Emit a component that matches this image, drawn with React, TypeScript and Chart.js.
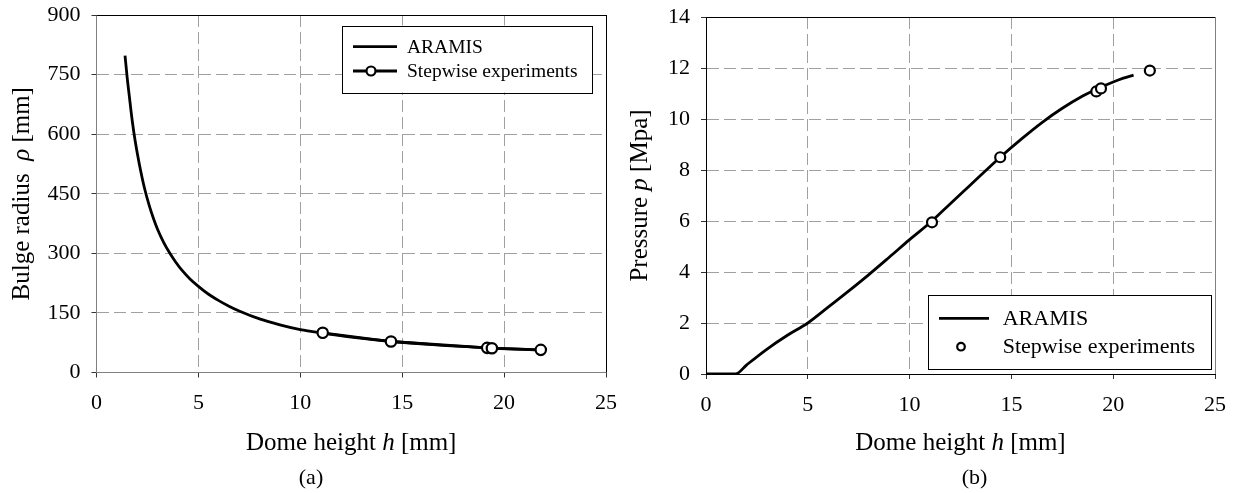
import React, { useEffect, useRef } from "react";
import { Chart, registerables } from "chart.js";

Chart.register(...registerables);

// ---------------- data ----------------
const xTickValues = [0, 5, 10, 15, 20, 25];
const radiusTickValues = [0, 150, 300, 450, 600, 750, 900];
const pressureTickValues = [0, 2, 4, 6, 8, 10, 12, 14];

// (a) ARAMIS: dome height h [mm] vs bulge radius rho [mm]
const aramisHeightA = [1.4, 1.5, 1.6, 1.75, 1.9, 2.1, 2.35, 2.6, 2.8, 3.0, 3.3, 3.6, 3.9, 4.2, 4.6, 5.0, 5.5, 6.0, 6.5, 7.0, 8.0, 9.0, 10.0, 11.1, 12.5, 14.5, 16.5, 18.5, 20.0, 21.5];
const aramisRadius = [798, 745, 700, 635, 582, 525, 465, 418, 387, 360, 327, 300, 277, 257, 235, 217, 197, 181, 167, 155, 135, 120, 108, 99, 89, 78, 70, 64, 60, 57];

// stepwise experiments
const stepHeight = [11.1, 14.45, 19.17, 19.4, 21.8];
const stepRadius = [100, 78, 62, 61, 57];
const stepPressure = [5.95, 8.5, 11.08, 11.2, 11.9];

// (b) ARAMIS: dome height h [mm] vs pressure p [MPa]
const aramisHeightB = [0, 0.5, 1.0, 1.45, 2.0, 3.0, 4.0, 5.0, 6.0, 7.0, 8.0, 9.0, 10.0, 11.1, 12.0, 13.0, 14.45, 15.5, 16.5, 17.5, 18.5, 19.2, 20.0, 20.5, 21.0];
const aramisPressure = [0, 0, 0, 0.0, 0.36, 0.98, 1.52, 2.0, 2.62, 3.25, 3.9, 4.58, 5.27, 6.0, 6.68, 7.42, 8.5, 9.22, 9.86, 10.42, 10.9, 11.18, 11.45, 11.6, 11.72];

const seriesLabels = ["ARAMIS", "Stepwise experiments"];

// ---------------- helpers ----------------
const FONT = "'Liberation Serif', 'Times New Roman', Times, serif";
const CANVAS_H = 493;
const X_AXIS_H = 80;

type Seg = { t: string; i?: boolean };

function drawSegs(ctx: CanvasRenderingContext2D, segs: Seg[], size: number, x: number, y: number, rotate: boolean) {
  ctx.save();
  ctx.translate(x, y);
  if (rotate) ctx.rotate(-Math.PI / 2);
  const fonts = segs.map((s) => `${s.i ? "italic " : ""}${size}px ${FONT}`);
  let total = 0;
  const widths = segs.map((s, k) => {
    ctx.font = fonts[k];
    const w = ctx.measureText(s.t).width;
    total += w;
    return w;
  });
  let cx = -total / 2;
  ctx.textBaseline = "alphabetic";
  ctx.textAlign = "left";
  ctx.fillStyle = "#000";
  segs.forEach((s, k) => {
    ctx.font = fonts[k];
    ctx.fillText(s.t, cx, 0);
    cx += widths[k];
  });
  ctx.restore();
}

function marker(ctx: CanvasRenderingContext2D, x: number, y: number, r: number, w: number) {
  ctx.save();
  ctx.beginPath();
  ctx.arc(x, y, r, 0, Math.PI * 2);
  ctx.fillStyle = "#fff";
  ctx.fill();
  ctx.lineWidth = w;
  ctx.strokeStyle = "#000";
  ctx.stroke();
  ctx.restore();
}

type LegendSpec = {
  box: { x: number; y: number; w: number; h: number };
  rows: { y: number; line: boolean; marker: boolean }[];
  lineX1: number;
  lineX2: number;
  markerX: number;
  markerR: number;
  textX: number;
  fontSize: number;
};

type Spec = {
  canvasW: number;
  area: { left: number; right: number; top: number; bottom: number };
  yMax: number;
  yTicks: number[];
  axisColor: string;
  frameTop: string;
  frameRight: string;
  yTitle: Seg[];
  yTitleX: number;
  xTitle: Seg[];
  caption: string;
  captionX: number;
  legend: LegendSpec;
  datasets: any[];
};

function buildConfig(spec: Spec): any {
  const { area } = spec;
  const decor = {
    id: "decor",
    afterDraw(chart: any) {
      const ctx: CanvasRenderingContext2D = chart.ctx;
      const ca = chart.chartArea;
      // frame top & right
      ctx.save();
      ctx.lineWidth = 1;
      ctx.strokeStyle = spec.frameTop;
      ctx.beginPath();
      ctx.moveTo(ca.left, Math.round(ca.top) + 0.5);
      ctx.lineTo(ca.right, Math.round(ca.top) + 0.5);
      ctx.stroke();
      ctx.strokeStyle = spec.frameRight;
      ctx.beginPath();
      ctx.moveTo(Math.round(ca.right) + 0.5, ca.top);
      ctx.lineTo(Math.round(ca.right) + 0.5, ca.bottom);
      ctx.stroke();
      ctx.restore();

      // axis titles and caption
      const midX = (ca.left + ca.right) / 2;
      const midY = (ca.top + ca.bottom) / 2;
      drawSegs(ctx, spec.xTitle, 25, midX, 450, false);
      drawSegs(ctx, spec.yTitle, 25, spec.yTitleX, midY, true);
      drawSegs(ctx, [{ t: spec.caption }], 22, spec.captionX, 484, false);

      // legend
      const lg = spec.legend;
      ctx.save();
      ctx.fillStyle = "#fff";
      ctx.fillRect(lg.box.x, lg.box.y, lg.box.w, lg.box.h);
      ctx.lineWidth = 1;
      ctx.strokeStyle = "#000";
      ctx.strokeRect(Math.round(lg.box.x) + 0.5, Math.round(lg.box.y) + 0.5, Math.round(lg.box.w), Math.round(lg.box.h));
      ctx.restore();
      lg.rows.forEach((row, k) => {
        if (row.line) {
          ctx.save();
          ctx.lineWidth = 2.8;
          ctx.strokeStyle = "#000";
          ctx.beginPath();
          ctx.moveTo(lg.lineX1, row.y);
          ctx.lineTo(lg.lineX2, row.y);
          ctx.stroke();
          ctx.restore();
        }
        if (row.marker) marker(ctx, lg.markerX, row.y, lg.markerR, 2.2);
        ctx.save();
        ctx.font = `${lg.fontSize}px ${FONT}`;
        ctx.fillStyle = "#000";
        ctx.textBaseline = "middle";
        ctx.textAlign = "left";
        ctx.fillText(chart.data.datasets[k].label, lg.textX, row.y + 1);
        ctx.restore();
      });
    },
  };

  return {
    type: "scatter",
    data: { datasets: spec.datasets },
    options: {
      animation: false,
      responsive: false,
      maintainAspectRatio: false,
      events: [],
      layout: {
        padding: {
          left: 0,
          top: area.top,
          right: spec.canvasW - area.right,
          bottom: CANVAS_H - area.bottom - X_AXIS_H,
        },
      },
      plugins: { legend: { display: false }, tooltip: { enabled: false }, title: { display: false } },
      scales: {
        x: {
          type: "linear",
          min: 0,
          max: 25,
          afterBuildTicks: (s: any) => {
            s.ticks = xTickValues.map((v) => ({ value: v }));
          },
          afterFit: (s: any) => {
            s.height = X_AXIS_H;
            s.paddingLeft = 0;
            s.paddingRight = 0;
          },
          ticks: { font: { family: FONT, size: 22 }, color: "#000", padding: 13, maxRotation: 0, autoSkip: false },
          grid: { color: "#a0a0a0", lineWidth: 1, tickLength: 5, tickColor: "#333", tickWidth: 1 },
          border: { display: true, color: spec.axisColor, width: 1, dash: [12, 5] },
        },
        y: {
          type: "linear",
          min: 0,
          max: spec.yMax,
          afterBuildTicks: (s: any) => {
            s.ticks = spec.yTicks.map((v) => ({ value: v }));
          },
          afterFit: (s: any) => {
            s.width = area.left;
            s.paddingTop = 0;
            s.paddingBottom = 0;
          },
          ticks: { font: { family: FONT, size: 22 }, color: "#000", padding: 11 },
          grid: { color: "#a0a0a0", lineWidth: 1, tickLength: 5, tickColor: "#333", tickWidth: 1 },
          border: { display: true, color: spec.axisColor, width: 1, dash: [12, 5] },
        },
      },
    },
    plugins: [decor],
  };
}

function pts(xs: number[], ys: number[]) {
  return xs.map((x, i) => ({ x, y: ys[i] }));
}

const configA = () =>
  buildConfig({
    canvasW: 620,
    area: { left: 96.5, right: 606, top: 15, bottom: 372.5 },
    yMax: 900,
    yTicks: radiusTickValues,
    axisColor: "#808080",
    frameTop: "#000",
    frameRight: "#000",
    yTitle: [{ t: "Bulge radius  " }, { t: "ρ", i: true }, { t: " [mm]" }],
    yTitleX: 28.5,
    xTitle: [{ t: "Dome height " }, { t: "h", i: true }, { t: " [mm]" }],
    caption: "(a)",
    captionX: 311,
    legend: {
      box: { x: 342, y: 25.5, w: 250, h: 67 },
      rows: [
        { y: 46.7, line: true, marker: false },
        { y: 71, line: true, marker: true },
      ],
      lineX1: 353,
      lineX2: 397,
      markerX: 371,
      markerR: 4.5,
      textX: 407,
      fontSize: 19.5,
    },
    datasets: [
      {
        label: seriesLabels[0],
        data: pts(aramisHeightA, aramisRadius),
        showLine: true,
        borderColor: "#000",
        borderWidth: 2.8,
        pointRadius: 0,
        cubicInterpolationMode: "monotone",
        order: 2,
      },
      {
        label: seriesLabels[1],
        data: pts(stepHeight, stepRadius),
        showLine: true,
        borderColor: "#000",
        borderWidth: 2.8,
        pointRadius: 5.2,
        pointBorderWidth: 2.2,
        pointBackgroundColor: "#fff",
        pointBorderColor: "#000",
        order: 1,
      },
    ],
  });

const configB = () =>
  buildConfig({
    canvasW: 626,
    area: { left: 96, right: 605, top: 17, bottom: 374 },
    yMax: 14,
    yTicks: pressureTickValues,
    axisColor: "#000",
    frameTop: "#000",
    frameRight: "#808080",
    yTitle: [{ t: "Pressure " }, { t: "p", i: true }, { t: " [Mpa]" }],
    yTitleX: 37,
    xTitle: [{ t: "Dome height " }, { t: "h", i: true }, { t: " [mm]" }],
    caption: "(b)",
    captionX: 364.5,
    legend: {
      box: { x: 318, y: 295, w: 283, h: 74 },
      rows: [
        { y: 318.3, line: true, marker: false },
        { y: 346.7, line: false, marker: true },
      ],
      lineX1: 329,
      lineX2: 379,
      markerX: 351,
      markerR: 3.8,
      textX: 392.7,
      fontSize: 22,
    },
    datasets: [
      {
        label: seriesLabels[0],
        data: pts(aramisHeightB, aramisPressure),
        showLine: true,
        borderColor: "#000",
        borderWidth: 2.8,
        pointRadius: 0,
        cubicInterpolationMode: "monotone",
        order: 2,
      },
      {
        label: seriesLabels[1],
        data: pts(stepHeight, stepPressure),
        showLine: false,
        pointRadius: 5,
        pointBorderWidth: 2.2,
        pointBackgroundColor: "#fff",
        pointBorderColor: "#000",
        order: 1,
      },
    ],
  });

export default function App() {
  const refA = useRef<HTMLCanvasElement>(null);
  const refB = useRef<HTMLCanvasElement>(null);
  useEffect(() => {
    const a = new Chart(refA.current as HTMLCanvasElement, configA());
    const b = new Chart(refB.current as HTMLCanvasElement, configB());
    return () => {
      a.destroy();
      b.destroy();
    };
  }, []);
  return (
    <div style={{ position: "absolute", left: 0, top: 0, width: 1236, height: 493, background: "#fff" }}>
      <canvas ref={refA} width={620} height={493} style={{ position: "absolute", left: 0, top: 0, width: 620, height: 493 }} />
      <canvas ref={refB} width={626} height={493} style={{ position: "absolute", left: 610, top: 0, width: 626, height: 493 }} />
    </div>
  );
}
